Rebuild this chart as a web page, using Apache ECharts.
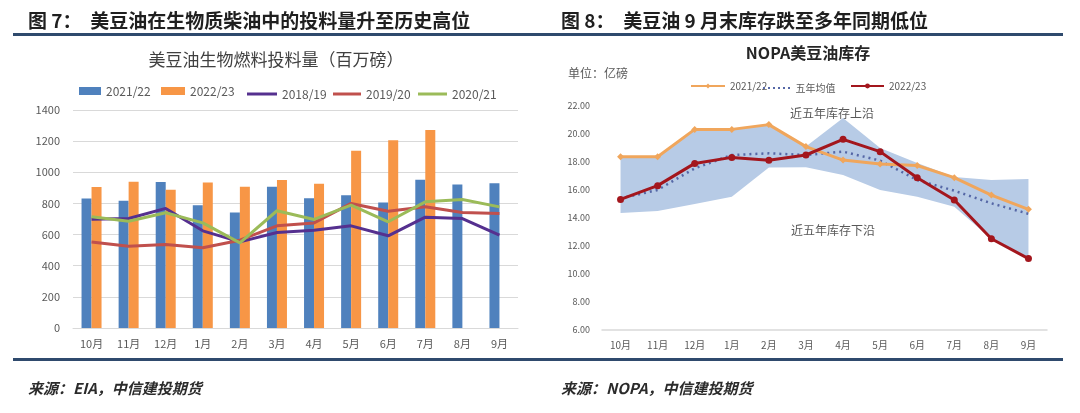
<!DOCTYPE html>
<html>
<head>
<meta charset="utf-8">
<script src="https://cdn.jsdelivr.net/npm/echarts@6/dist/echarts.min.js"></script>
<style>
html,body{margin:0;padding:0;background:#fff;}
#c{width:1080px;height:413px;}
</style>
</head>
<body>
<div id="c"></div>
<script>
// ---------- data ----------
const months = ['10月','11月','12月','1月','2月','3月','4月','5月','6月','7月','8月','9月'];
// left: soybean oil used in biofuel (million lbs)
const bio2122 = [832,817,937,789,742,907,834,853,806,952,922,930];
const bio2223 = [905,939,888,935,907,950,926,1138,1205,1271,null,null];
const bio1819 = [699,703,768,624,553,613,628,656,592,712,703,596];
const bio1920 = [553,525,536,515,564,656,675,800,750,778,742,735];
const bio2021 = [714,686,740,675,547,753,697,789,682,810,825,778];
const bioTicks = {min:0, max:1400, interval:200};
// right: NOPA soybean oil stocks (100 million lbs)
const stock2122 = [18.38,18.38,20.33,20.33,20.67,19.10,18.14,17.85,17.75,16.88,15.64,14.62];
const stock2223 = [15.33,16.31,17.90,18.33,18.12,18.50,19.62,18.74,16.88,15.29,12.52,11.10];
const stockAvg  = [15.40,16.00,17.55,18.50,18.62,18.50,18.74,18.10,16.71,15.95,15.05,14.30];
const bandUpper = [18.38,18.38,20.33,20.33,20.67,19.10,21.14,19.00,17.93,16.93,16.71,16.79];
const bandLower = [14.36,14.50,15.00,15.52,17.60,17.62,17.07,16.00,15.52,14.81,12.52,11.10];
const stockTicks = {min:6, max:22, interval:2};

const bandDiff = bandUpper.map((u,i)=>+(u-bandLower[i]).toFixed(2));

const chart = echarts.init(document.getElementById('c'), null, {renderer:'canvas'});
const sans = '"Noto Sans CJK SC","Noto Sans",sans-serif';
const navy = '#2f4a6d';
const axisTxt = '#595959';
const dots = 'path://M0,0h2v2h-2zM5,0h2v2h-2zM10,0h2v2h-2zM15,0h2v2h-2zM20,0h2v2h-2zM25,0h2v2h-2z';

function lg(item, left, top, extra){
  return Object.assign({
    data:[item], left:left, top:top, itemWidth:28, itemHeight:8, itemGap:0,
    padding:0, textStyle:{fontSize:12, color:axisTxt, fontFamily:sans}, selectedMode:false
  }, extra||{});
}
const smallTxt = {fontSize:10, color:axisTxt, fontFamily:sans};

const option = {
  animation:false,
  backgroundColor:'#fff',
  legend:[
    lg({name:'2021/22', icon:'rect'}, 79, 85, {itemWidth:22}),
    lg({name:'2022/23', icon:'rect'}, 161, 85, {itemWidth:24}),
    lg({name:'2018/19', icon:'rect'}, 247, 88, {itemWidth:30, itemHeight:3}),
    lg({name:'2019/20', icon:'rect'}, 333, 88, {itemWidth:28, itemHeight:3}),
    lg({name:'2020/21', icon:'rect'}, 418, 88, {itemWidth:29, itemHeight:3}),
    lg({name:'2021/22 '}, 690, 81, {itemWidth:34, itemHeight:6, textStyle:smallTxt}),
    lg({name:'五年均值', icon:dots}, 763, 83, {itemWidth:28, itemHeight:2, textStyle:smallTxt}),
    lg({name:'2022/23 '}, 850, 81, {itemWidth:33, itemHeight:6, textStyle:smallTxt})
  ],
  grid:[
    {left:73, top:110, width:445, height:218},
    {left:602, top:106, width:445, height:224}
  ],
  xAxis:[
    {type:'category', gridIndex:0, data:months, axisTick:{show:false},
     axisLine:{show:true, lineStyle:{color:'#d9d9d9'}},
     axisLabel:{color:axisTxt, fontSize:11, margin:10, fontFamily:sans}},
    {type:'category', gridIndex:1, data:months, axisTick:{show:false},
     axisLine:{show:true, lineStyle:{color:'#d9d9d9', width:1.5}},
     axisLabel:{color:axisTxt, fontSize:10, margin:10, fontFamily:sans}}
  ],
  yAxis:[
    {type:'value', gridIndex:0, min:bioTicks.min, max:bioTicks.max, interval:bioTicks.interval,
     axisLine:{show:false}, axisTick:{show:false},
     axisLabel:{color:axisTxt, fontSize:11, margin:13, fontFamily:sans, formatter:v=>String(v)},
     splitLine:{lineStyle:{color:'#d9d9d9'}}},
    {type:'value', gridIndex:1, min:stockTicks.min, max:stockTicks.max, interval:stockTicks.interval,
     axisLine:{show:false}, axisTick:{show:false},
     axisLabel:{color:axisTxt, fontSize:9, margin:12, fontFamily:sans, formatter:v=>v.toFixed(2)},
     splitLine:{show:false}}
  ],
  series:[
    {name:'2021/22', type:'bar', xAxisIndex:0, yAxisIndex:0, data:bio2122, barWidth:10, barGap:'0%',
     itemStyle:{color:'#4f81bd'}},
    {name:'2022/23', type:'bar', xAxisIndex:0, yAxisIndex:0, data:bio2223, barWidth:10, barGap:'0%',
     itemStyle:{color:'#f79646'}},
    {name:'2018/19', type:'line', xAxisIndex:0, yAxisIndex:0, data:bio1819, symbol:'none',
     lineStyle:{color:'#55308f', width:3}, itemStyle:{color:'#55308f'}},
    {name:'2019/20', type:'line', xAxisIndex:0, yAxisIndex:0, data:bio1920, symbol:'none',
     lineStyle:{color:'#c0504d', width:3}, itemStyle:{color:'#c0504d'}},
    {name:'2020/21', type:'line', xAxisIndex:0, yAxisIndex:0, data:bio2021, symbol:'none',
     lineStyle:{color:'#9bbb59', width:3}, itemStyle:{color:'#9bbb59'}},

    {name:'bandBase', type:'line', xAxisIndex:1, yAxisIndex:1, data:bandLower, stack:'band',
     symbol:'none', lineStyle:{opacity:0}, silent:true, z:1},
    {name:'bandRange', type:'line', xAxisIndex:1, yAxisIndex:1, data:bandDiff, stack:'band',
     symbol:'none', lineStyle:{opacity:0}, areaStyle:{color:'#b7cbe6', opacity:1}, silent:true, z:1},
    {name:'五年均值', type:'line', xAxisIndex:1, yAxisIndex:1, data:stockAvg, symbol:'none', z:3,
     lineStyle:{color:'#5567a6', width:2.5, type:[2,4]}, itemStyle:{color:'#5567a6'}},
    {name:'2021/22 ', type:'line', xAxisIndex:1, yAxisIndex:1, data:stock2122, symbol:'diamond', symbolSize:7, z:4,
     lineStyle:{color:'#f0a65c', width:3}, itemStyle:{color:'#f0a65c'}},
    {name:'2022/23 ', type:'line', xAxisIndex:1, yAxisIndex:1, data:stock2223, symbol:'circle', symbolSize:7, z:5,
     lineStyle:{color:'#a3161d', width:3}, itemStyle:{color:'#a3161d'}}
  ],
  graphic:[
    {type:'text', style:{x:28, y:21, text:'图 7：  美豆油在生物质柴油中的投料量升至历史高位', font:'bold 19px '+sans, fill:'#1f1f1f', verticalAlign:'middle'}},
    {type:'text', style:{x:561, y:21, text:'图 8：  美豆油 9 月末库存跌至多年同期低位', font:'bold 19px '+sans, fill:'#1f1f1f', verticalAlign:'middle'}},
    {type:'rect', shape:{x:13, y:33, width:1050, height:3}, style:{fill:navy}},
    {type:'rect', shape:{x:13, y:358, width:1050, height:3}, style:{fill:navy}},
    {type:'text', style:{x:276, y:60, text:'美豆油生物燃料投料量（百万磅）', font:'17px '+sans, fill:'#404040', align:'center', verticalAlign:'middle'}},
    {type:'text', style:{x:808, y:53, text:'NOPA美豆油库存', font:'bold 16px '+sans, fill:'#262626', align:'center', verticalAlign:'middle'}},
    {type:'text', style:{x:568, y:73, text:'单位：亿磅', font:'12px '+sans, fill:axisTxt, verticalAlign:'middle'}},
    {type:'text', style:{x:790, y:113, text:'近五年库存上沿', font:'12px '+sans, fill:axisTxt, verticalAlign:'middle'}},
    {type:'text', style:{x:791, y:230, text:'近五年库存下沿', font:'12px '+sans, fill:axisTxt, verticalAlign:'middle'}},
    {type:'text', style:{x:28, y:388, text:'来源：EIA，中信建投期货', font:'italic bold 15px '+sans, fill:'#2b2b2b', verticalAlign:'middle'}},
    {type:'text', style:{x:561, y:388, text:'来源：NOPA，中信建投期货', font:'italic bold 15px '+sans, fill:'#2b2b2b', verticalAlign:'middle'}}
  ]
};
chart.setOption(option);
</script>
</body>
</html>
